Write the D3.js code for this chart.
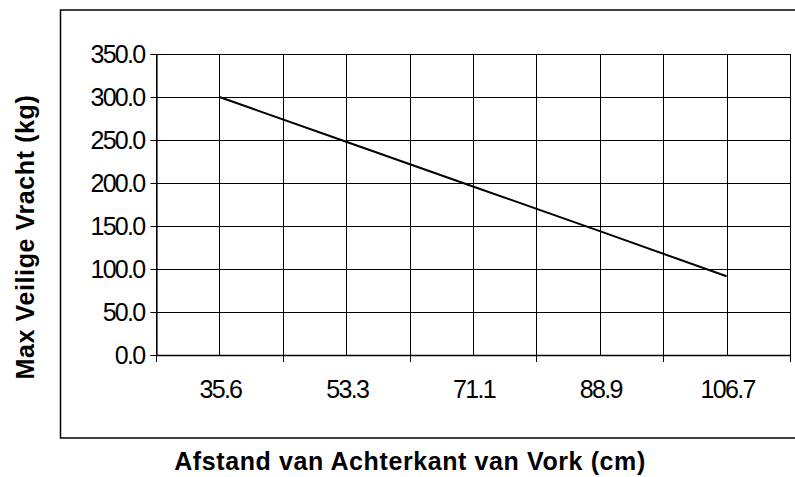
<!DOCTYPE html>
<html>
<head>
<meta charset="utf-8">
<script src="https://cdn.jsdelivr.net/npm/d3@7"></script>
<style>
  body { margin: 0; background: #fff; }
  svg { display: block; }
</style>
</head>
<body>
<svg></svg>
<script>
// afstand (cm) en max veilige vracht (kg)
let categories = ["35.6", "53.3", "71.1", "88.9", "106.7"]
let values = [300.0, 248.0, 196.0, 144.0, 91.5]
let yTicks = [0, 50, 100, 150, 200, 250, 300, 350]

let width = 795
let height = 477
let plot = { left: 156, right: 790, top: 54, bottom: 355 }
let font = "Liberation Sans, Arial, sans-serif"

let svg = d3.select("svg")
  .attr("width", width)
  .attr("height", height)

let xScale = d3.scaleBand()
  .domain(categories)
  .range([plot.left, plot.right])
  .padding(0)

let yScale = d3.scaleLinear()
  .domain([0, 350])
  .range([plot.bottom, plot.top])

let xMid = (d) => xScale(d) + xScale.bandwidth() / 2

// outer chart border
svg.append("rect")
  .attr("x", 60.5)
  .attr("y", 10)
  .attr("width", 760)
  .attr("height", 428)
  .attr("fill", "none")
  .attr("stroke", "#000")
  .attr("stroke-width", 1.5)

// horizontal gridlines
svg.append("g")
  .selectAll("line")
  .data(yTicks)
  .enter()
  .append("line")
  .attr("x1", plot.left)
  .attr("x2", plot.right)
  .attr("y1", (d) => Math.round(yScale(d)) + 0.5)
  .attr("y2", (d) => Math.round(yScale(d)) + 0.5)
  .attr("stroke", "#000")
  .attr("stroke-width", 1)

// vertical gridlines, at band edges and band centres
let vLines = []
categories.forEach((c) => {
  vLines.push(xScale(c))
  vLines.push(xMid(c))
})
vLines.push(plot.right)

svg.append("g")
  .selectAll("line")
  .data(vLines)
  .enter()
  .append("line")
  .attr("x1", (d) => Math.round(d) + 0.5)
  .attr("x2", (d) => Math.round(d) + 0.5)
  .attr("y1", plot.top)
  .attr("y2", plot.bottom)
  .attr("stroke", "#000")
  .attr("stroke-width", 1)

// y axis
let yAxis = d3.axisLeft(yScale)
  .tickValues(yTicks)
  .tickFormat(d3.format(".1f"))
  .tickSize(6)
  .tickPadding(6)

let gy = svg.append("g")
  .attr("transform", "translate(" + (plot.left + 0.5) + ",0)")
  .call(yAxis)
gy.select(".domain").attr("stroke", "#000").attr("stroke-width", 1.2)
gy.selectAll(".tick line").attr("stroke", "#000")
gy.selectAll(".tick text")
  .attr("font-family", font)
  .attr("font-size", 25)
  .attr("letter-spacing", "-1.7px")
  .attr("fill", "#000")
  .attr("dy", "0.34em")

// x axis line and ticks at band edges
svg.append("line")
  .attr("x1", plot.left)
  .attr("x2", plot.right)
  .attr("y1", plot.bottom + 0.5)
  .attr("y2", plot.bottom + 0.5)
  .attr("stroke", "#000")
  .attr("stroke-width", 1.5)

let edges = categories.map((c) => xScale(c)).concat([plot.right])
svg.append("g")
  .selectAll("line")
  .data(edges)
  .enter()
  .append("line")
  .attr("x1", (d) => Math.round(d) + 0.5)
  .attr("x2", (d) => Math.round(d) + 0.5)
  .attr("y1", plot.bottom)
  .attr("y2", plot.bottom + 7)
  .attr("stroke", "#000")

svg.append("g")
  .selectAll("text")
  .data(categories)
  .enter()
  .append("text")
  .attr("x", (d) => xMid(d) + 1)
  .attr("y", 398)
  .attr("text-anchor", "middle")
  .attr("font-family", font)
  .attr("font-size", 25)
  .attr("letter-spacing", "-1.7px")
  .text((d) => d)

// the line
let line = d3.line()
  .x((d, i) => xMid(categories[i]))
  .y((d) => yScale(d))

svg.append("path")
  .datum(values)
  .attr("d", line)
  .attr("fill", "none")
  .attr("stroke", "#000")
  .attr("stroke-width", 2)

// axis titles
svg.append("text")
  .attr("x", 410)
  .attr("y", 470)
  .attr("text-anchor", "middle")
  .attr("font-family", font)
  .attr("font-weight", "bold")
  .attr("font-size", 25)
  .attr("letter-spacing", "0.6px")
  .text("Afstand van Achterkant van Vork (cm)")

svg.append("text")
  .attr("transform", "translate(34,237) rotate(-90)")
  .attr("text-anchor", "middle")
  .attr("font-family", font)
  .attr("font-weight", "bold")
  .attr("font-size", 25)
  .attr("letter-spacing", "0.6px")
  .text("Max Veilige Vracht (kg)")
</script>
</body>
</html>
